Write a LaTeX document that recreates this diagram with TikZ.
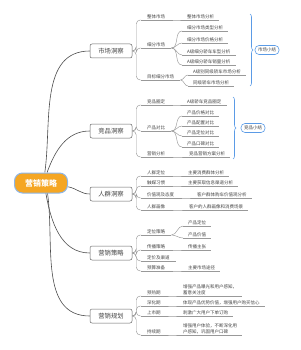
\documentclass[tikz,border=0pt]{standalone}
\usepackage{fontspec}
\newfontfamily\cjk{Noto Sans CJK SC}
\usetikzlibrary{decorations.pathreplacing}
\definecolor{rootorange}{HTML}{F5A623}
\definecolor{rootblue}{HTML}{8DB6E8}
\definecolor{sumblue}{HTML}{5B9BE6}
\definecolor{txtgray}{HTML}{444444}
\begin{document}
\begin{tikzpicture}[x=1pt,y=-1pt,
  rootbox/.style={draw=rootblue,line width=1pt,fill=rootorange,rounded corners=8pt,minimum width=53pt,minimum height=20pt,font=\cjk\bfseries\fontsize{8}{9}\selectfont,text=white,inner sep=1pt},
  branchbox/.style={draw=black!60,line width=0.5pt,fill=white,rounded corners=2pt,minimum width=42pt,minimum height=14pt,font=\cjk\fontsize{6.3}{7}\selectfont,text=txtgray,inner sep=1pt},
  lab/.style={font=\cjk\fontsize{4.5}{5.6}\selectfont,text=txtgray,inner xsep=6pt,inner ysep=1.2pt,anchor=south west,align=left},
  kid/.style={lab,inner xsep=5pt},
  sumbox/.style={draw=sumblue,line width=0.6pt,rounded corners=4pt,font=\cjk\fontsize{4.5}{5}\selectfont,text=txtgray,inner xsep=3pt,inner ysep=2pt,minimum height=9pt},
  rootln/.style={draw=black!70,line width=0.6pt},
  ln/.style={draw=black!40,line width=0.45pt},
  ul/.style={draw=black!40,line width=0.45pt},
  brc/.style={draw=sumblue,line width=0.6pt,decorate,decoration={brace,amplitude=3pt}}
]
\useasboundingbox (0,0) rectangle (300,350);

% root and branches
\node[rootbox] (root) at (41,183) {营销策略};
\node[branchbox] (b1) at (111,51) {市场洞察};
\node[branchbox] (b2) at (111,131) {竞品洞察};
\node[branchbox] (b3) at (111,194) {人群洞察};
\node[branchbox] (b4) at (111,253) {营销策略};
\node[branchbox] (b5) at (111,316) {营销规划};

\draw[rootln] (root.70) to[out=82,in=180] (b1.west);
\draw[rootln] (root.60) to[out=70,in=180] (b2.west);
\draw[rootln] (root.-8) to[out=-10,in=180] (b3.west);
\draw[rootln] (root.-65) to[out=-80,in=180] (b4.west);
\draw[rootln] (root.-58) to[out=-82,in=180] (b5.west);

% ---------- 市场洞察 ----------
\node[lab] (m1) at (141,20) {整体市场};
\node[lab] (m2) at (141,48) {细分市场};
\node[lab] (m3) at (141,80) {目标细分市场};
\node[kid] (m11) at (182,20) {整体市场分析};
\node[kid] (m21) at (182,31) {细分市场类型分析};
\node[kid] (m22) at (182,43) {细分市场价格分析};
\node[kid] (m23) at (182,55) {A级细分轿车车型分析};
\node[kid] (m24) at (182,65) {A级细分轿车销量分析};
\node[kid] (m31) at (188,75) {A级别同级轿车市场分析};
\node[kid] (m32) at (188,86) {同级轿车市场分析};
\foreach \p in {m1,m2,m3}{\draw[ln,rounded corners=4pt] (b1.east) -- ++(4,0) |- (\p.south west);}
\draw[ln] (m1.south east) to[out=0,in=180] (m11.south west);
\foreach \c in {m21,m22,m23,m24}{\draw[ln] (m2.south east) to[out=0,in=180] (\c.south west);}
\foreach \c in {m31,m32}{\draw[ln] (m3.south east) to[out=0,in=180] (\c.south west);}
\draw[brc] (250,14) -- (250,86);
\node[sumbox] (s1) at (267,50) {市场小结};

% ---------- 竞品洞察 ----------
\node[lab] (c1) at (141,105) {竞品圈定};
\node[lab] (c2) at (141,131) {产品对比};
\node[lab] (c3) at (141,157) {营销分析};
\node[kid] (c11) at (182,105) {A级轿车竞品圈定};
\node[kid] (c21) at (182,116) {产品价格对比};
\node[kid] (c22) at (182,126) {产品配置对比};
\node[kid] (c23) at (182,136) {产品定位对比};
\node[kid] (c24) at (182,147) {产品口碑对比};
\node[kid] (c31) at (184,157) {竞品营销方案分析};
\foreach \p in {c1,c2,c3}{\draw[ln,rounded corners=4pt] (b2.east) -- ++(4,0) |- (\p.south west);}
\draw[ln] (c1.south east) to[out=0,in=180] (c11.south west);
\foreach \c in {c21,c22,c23,c24}{\draw[ln] (c2.south east) to[out=0,in=180] (\c.south west);}
\draw[ln] (c3.south east) to[out=0,in=180] (c31.south west);
\draw[brc] (233,97) -- (233,159);
\node[sumbox] (s2) at (253,128) {竞品小结};

% ---------- 人群洞察 ----------
\node[lab] (p1) at (141,176) {人群定位};
\node[lab] (p2) at (141,186) {触媒习惯};
\node[lab] (p3) at (141,198) {价值观及态度};
\node[lab] (p4) at (141,210) {人群画像};
\node[kid] (p11) at (183,176) {主要消费群体分析};
\node[kid] (p21) at (183,186) {主要获取信息渠道分析};
\node[kid] (p31) at (192,198) {客户群体购车价值观分析};
\node[kid] (p41) at (184,210) {客户的人群画像和消费场景};
\foreach \p in {p1,p2,p3,p4}{\draw[ln,rounded corners=4pt] (b3.east) -- ++(4,0) |- (\p.south west);}
\foreach \p/\c in {p1/p11,p2/p21,p3/p31,p4/p41}{\draw[ln] (\p.south east) to[out=0,in=180] (\c.south west);}

% ---------- 营销策略 ----------
\node[lab] (g1) at (141,235) {定位策略};
\node[lab] (g2) at (141,250) {传播策略};
\node[lab] (g3) at (141,261) {定价及渠道};
\node[lab] (g4) at (141,271) {预算准备};
\node[kid] (g11) at (183,226) {产品定位};
\node[kid] (g12) at (183,238) {产品价值};
\node[kid] (g21) at (183,250) {传播主张};
\node[kid] (g41) at (183,271) {主要市场途径};
\foreach \p in {g1,g2,g3,g4}{\draw[ln,rounded corners=4pt] (b4.east) -- ++(4,0) |- (\p.south west);}
\foreach \c in {g11,g12}{\draw[ln] (g1.south east) to[out=0,in=180] (\c.south west);}
\draw[ln] (g2.south east) to[out=0,in=180] (g21.south west);
\draw[ln] (g4.south east) to[out=0,in=180] (g41.south west);

% ---------- 营销规划 ----------
\node[lab] (r1) at (141,296) {预热期};
\node[lab] (r2) at (141,306) {深化期};
\node[lab] (r3) at (141,316) {上市期};
\node[lab] (r4) at (141,335) {持续期};
\node[kid] (r11) at (178,296) {增强产品曝光和用户感知，\\蓄意关注度};
\node[kid] (r21) at (178,306) {体现产品优势价值，增强用户购买信心};
\node[kid] (r31) at (178,316) {刺激广大用户下单订购};
\node[kid] (r41) at (178,335) {增强用户体验，不断深化用\\户感知，巩固用户口碑};
\foreach \p in {r1,r2,r3,r4}{\draw[ln,rounded corners=4pt] (b5.east) -- ++(4,0) |- (\p.south west);}
\foreach \p/\c in {r1/r11,r2/r21,r3/r31,r4/r41}{\draw[ln] (\p.south east) to[out=0,in=180] (\c.south west);}

% underlines
\foreach \n in {m1,m2,m3,m11,m21,m22,m23,m24,m31,m32,c1,c2,c3,c11,c21,c22,c23,c24,c31,p1,p2,p3,p4,p11,p21,p31,p41,g1,g2,g3,g4,g11,g12,g21,g41,r1,r2,r3,r4,r11,r21,r31,r41}
  {\draw[ul] (\n.south west) -- (\n.south east);}
\end{tikzpicture}
\end{document}
